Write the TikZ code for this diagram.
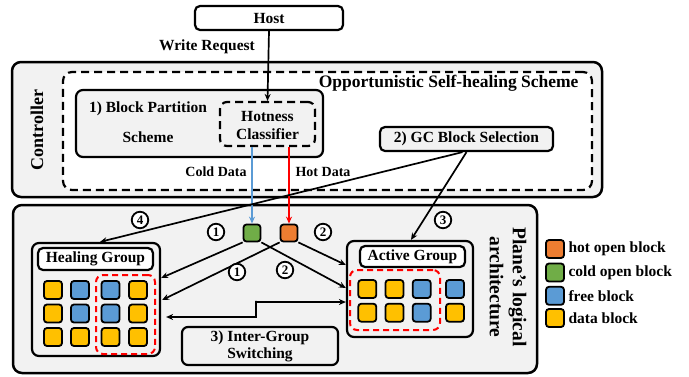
\documentclass[tikz,border=0pt]{standalone}
\usepackage{fontspec}
\setmainfont{Liberation Serif}
\usetikzlibrary{arrows.meta,calc}
\definecolor{bg}{HTML}{F2F2F2}
\definecolor{hotc}{HTML}{ED7D31}
\definecolor{coldc}{HTML}{70AD47}
\definecolor{freec}{HTML}{5B9BD5}
\definecolor{datac}{HTML}{FFC000}
\definecolor{redl}{HTML}{FF0000}
\begin{document}
\begin{tikzpicture}[x=1pt,y=-1pt,
  txt/.style={font=\bfseries\fontsize{15.5}{17}\selectfont},
  smalltxt/.style={font=\bfseries\fontsize{14}{16}\selectfont},
  box/.style={draw, line width=2.2pt, rounded corners=7pt, fill=bg, inner sep=0pt},
  dbox/.style={box, dash pattern=on 8pt off 5pt},
  wbox/.style={box, fill=white, rounded corners=5pt},
  blk/.style={draw, line width=1.8pt, rounded corners=3pt, minimum size=18pt, inner sep=0pt},
  reddash/.style={draw=redl, line width=2pt, dash pattern=on 6pt off 4pt, rounded corners=7pt, inner sep=0pt},
  num/.style={circle, draw, line width=1.8pt, fill=white, minimum size=16.5pt, inner sep=0pt, font=\bfseries\fontsize{13}{13}\selectfont},
  tip/.style={-{Stealth[length=7pt,width=6pt]}},
  arr/.style={line width=1.7pt, tip},
  darr/.style={line width=1.7pt, {Stealth[length=7pt,width=6pt]}-{Stealth[length=7pt,width=6pt]}}
]
\useasboundingbox (0,0) rectangle (689,376);

% Host
\node[wbox, minimum width=148pt, minimum height=24pt, txt] (host) at (269,18) {Host};
\node[txt] (wr) at (207,47) {Write Request};

% Controller
\node[box, line width=2.5pt, rounded corners=9pt, minimum width=590pt, minimum height=135pt] (ctrl) at (307,129.5) {};
\node[font=\bfseries\fontsize{18}{20}\selectfont, rotate=90] (ctrlt) at (37,130) {Controller};
\node[dbox, fill=white, rounded corners=9pt, minimum width=529pt, minimum height=118pt] (oss) at (327.5,131) {};
\node[font=\bfseries\fontsize{17.5}{20}\selectfont, anchor=east] (osst) at (582,83) {Opportunistic Self-healing Scheme};

\node[box, minimum width=247pt, minimum height=67pt] (bp) at (199.5,123.5) {};
\node[txt] (bpt1) at (148,109) {1) Block Partition};
\node[txt] (bpt2) at (148,137) {Scheme};
\node[dbox, minimum width=95pt, minimum height=44pt] (hc) at (267.5,124) {};
\node[txt, align=center, font=\bfseries\fontsize{15.5}{18}\selectfont] (hct) at (267.5,125) {Hotness\\Classifier};

\node[box, rounded corners=5pt, minimum width=173pt, minimum height=24pt, txt] (gc) at (466.5,139) {2) GC Block Selection};

\node[smalltxt] (cd) at (216,172) {Cold Data};
\node[smalltxt] (hd) at (323,172) {Hot Data};

% Plane
\node[box, line width=2.5pt, rounded corners=9pt, minimum width=524pt, minimum height=168pt] (plane) at (275,289) {};
\node[font=\bfseries\fontsize{19.5}{23}\selectfont, rotate=-90, align=center] (planet) at (508,287) {Plane’s logical\\architecture};

% Healing group
\node[box, minimum width=128pt, minimum height=113pt] (heal) at (96,299.5) {};
\node[wbox, minimum width=115pt, minimum height=22pt, txt] (healt) at (95.5,259) {Healing Group};
\node[reddash, minimum width=59pt, minimum height=79pt] (hred) at (125.5,314.5) {};
\foreach \r/\y/\ca/\cb/\cc/\cd in {1/290/datac/freec/freec/datac, 2/313.5/datac/freec/freec/datac, 3/337/datac/datac/datac/datac}{
  \node[blk, fill=\ca] (h\r a) at (53,\y) {};
  \node[blk, fill=\cb] (h\r b) at (80,\y) {};
  \node[blk, fill=\cc] (h\r c) at (110.5,\y) {};
  \node[blk, fill=\cd] (h\r d) at (138,\y) {};
}

% Active group
\node[box, minimum width=126pt, minimum height=96pt] (act) at (410,289) {};
\node[wbox, minimum width=105pt, minimum height=21pt, txt] (actt) at (412.5,256.5) {Active Group};
\node[reddash, minimum width=90pt, minimum height=60pt] (ared) at (395,300) {};
\foreach \r/\y/\ca/\cb/\cc/\cd in {1/289/datac/datac/freec/freec, 2/312.7/datac/datac/freec/datac}{
  \node[blk, fill=\ca] (a\r a) at (367.3,\y) {};
  \node[blk, fill=\cb] (a\r b) at (394.5,\y) {};
  \node[blk, fill=\cc] (a\r c) at (421.7,\y) {};
  \node[blk, fill=\cd] (a\r d) at (455,\y) {};
}

% Inter-group switching
\node[box, rounded corners=6pt, minimum width=156pt, minimum height=38pt] (inter) at (260,346) {};
\node[txt, align=center, font=\bfseries\fontsize{15.5}{17}\selectfont] (intert) at (260,346) {3) Inter-Group\\Switching};

% open blocks
\node[blk, fill=coldc, minimum size=17pt] (g) at (252,233) {};
\node[blk, fill=hotc, minimum size=17pt] (o) at (289,233) {};

% connectors
\draw[arr] (host.south) -- (hc.north);
\draw[line width=1.7pt, freec, tip] (g.north |- hc.south) -- (g.north);
\draw[line width=1.7pt, redl, tip] (o.north |- hc.south) -- (o.north);

\draw[arr] ($(gc.south)+(-4,0)$) -- ($(heal.north)+(4,0)$);
\draw[arr] (gc.south) -- ($(act.north)+(1,0)$);

\draw[arr] (g.south west) -- ($(heal.east)+(0,-21.5)$);
\draw[arr] (o.south west) -- ($(heal.east)+(1,0.5)$);
\draw[arr] (g.south east) -- ($(act.west)+(0,-1)$);
\draw[arr] (o.south east) -- ($(act.west)+(0,-24)$);
\draw[darr] ($(heal.east)+(5,17.5)$) -| ($(inter.north)+(-4,-25)$) |- ($(act.west)+(0,13)$);

% circled numbers
\node[num] (n4) at (140,220) {4};
\node[num] (n3) at (443,220) {3};
\node[num] (n1a) at (216,232) {1};
\node[num] (n1b) at (237,272) {1};
\node[num] (n2a) at (285,270) {2};
\node[num] (n2b) at (323,232) {2};

% legend
\node[blk, fill=hotc] (l1) at (555,249) {};
\node[blk, fill=coldc] (l2) at (555,272.5) {};
\node[blk, fill=freec] (l3) at (555,295.8) {};
\node[blk, fill=datac] (l4) at (555,318) {};
\node[txt, anchor=west] (l1t) at (565,249) {hot open block};
\node[txt, anchor=west] (l2t) at (565,272.5) {cold open block};
\node[txt, anchor=west] (l3t) at (565,295.8) {free block};
\node[txt, anchor=west] (l4t) at (565,318) {data block};
\end{tikzpicture}
\end{document}
